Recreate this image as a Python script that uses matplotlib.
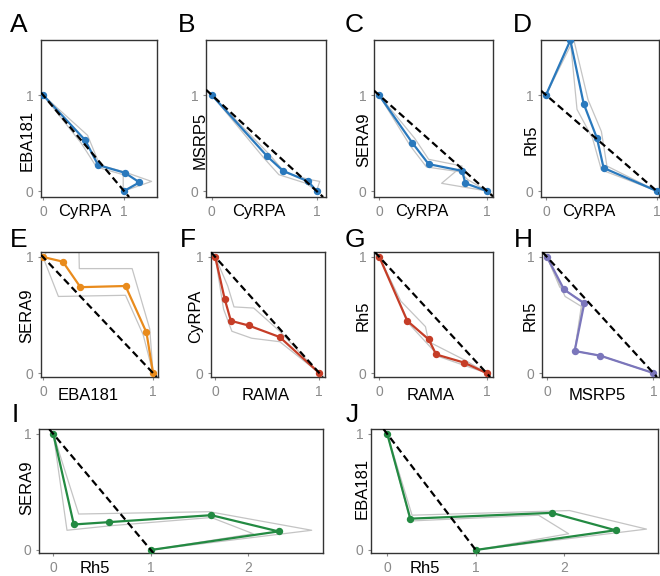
import matplotlib
matplotlib.use('Agg')
import matplotlib.pyplot as plt

plt.rcParams['font.family'] = ['Liberation Sans', 'DejaVu Sans']

# ---------------- data ----------------
panel_letters = ['A', 'B', 'C', 'D', 'E', 'F', 'G', 'H', 'I', 'J']
x_names = ['CyRPA', 'CyRPA', 'CyRPA', 'CyRPA', 'EBA181', 'RAMA', 'RAMA', 'MSRP5', 'Rh5', 'Rh5']
y_names = ['EBA181', 'MSRP5', 'SERA9', 'Rh5', 'SERA9', 'CyRPA', 'Rh5', 'Rh5', 'SERA9', 'EBA181']

a_x = [0, 0.52, 0.68, 1.01, 1.19, 1.0]
a_y = [1, 0.53, 0.27, 0.19, 0.09, 0]
a_g1x = [0, 0.55, 0.70, 1.0, 1.34, 1.0]
a_g1y = [1, 0.58, 0.27, 0.20, 0.10, 0]
a_g2x = [0, 0.47, 0.66, 0.99, 0.99, 1.0]
a_g2y = [1, 0.50, 0.25, 0.17, 0.04, 0]

b_x = [0, 0.53, 0.68, 0.92, 1.0]
b_y = [1, 0.36, 0.21, 0.10, 0]
b_g1x = [0, 0.55, 0.70, 0.93, 1.03, 1.0]
b_g1y = [1, 0.38, 0.19, 0.12, 0.10, 0]
b_g2x = [0, 0.50, 0.64, 0.90, 1.0]
b_g2y = [1, 0.34, 0.17, 0.08, 0]

c_x = [0, 0.31, 0.46, 0.77, 0.80, 1.0]
c_y = [1, 0.50, 0.28, 0.21, 0.08, 0]
c_g1x = [0, 0.33, 0.46, 0.77, 0.58, 1.0]
c_g1y = [1, 0.55, 0.33, 0.26, 0.08, 0]
c_g2x = [0, 0.29, 0.44, 0.75, 0.82, 1.0]
c_g2y = [1, 0.47, 0.25, 0.20, 0.12, 0]

d_x = [0, 0.22, 0.34, 0.46, 0.52, 1.0]
d_y = [1, 1.57, 0.91, 0.55, 0.24, 0]
d_g1x = [0, 0.22, 0.28, 0.42, 0.50, 1.0]
d_g1y = [1, 1.57, 0.85, 0.55, 0.22, 0]
d_g2x = [0, 0.25, 0.38, 0.50, 0.55, 1.0]
d_g2y = [1, 1.58, 0.95, 0.62, 0.26, 0]

e_x = [0, 0.18, 0.34, 0.75, 0.94, 1.0]
e_y = [1, 0.96, 0.74, 0.75, 0.35, 0]
e_g1x = [0, 0.32, 0.33, 0.81, 0.97, 1.0]
e_g1y = [1, 1.40, 0.90, 0.90, 0.38, 0]
e_g2x = [0, 0.14, 0.75, 0.91, 1.0]
e_g2y = [1, 0.66, 0.67, 0.33, 0]

f_x = [0, 0.09, 0.15, 0.32, 0.62, 1.0]
f_y = [1, 0.64, 0.45, 0.41, 0.31, 0]
f_g1x = [0, 0.12, 0.18, 0.37, 0.62, 1.0]
f_g1y = [1, 0.75, 0.57, 0.56, 0.36, 0]
f_g2x = [0, 0.08, 0.16, 0.35, 0.62, 1.0]
f_g2y = [1, 0.55, 0.36, 0.30, 0.27, 0]

g_x = [0, 0.26, 0.46, 0.53, 0.79, 1.0]
g_y = [1, 0.45, 0.29, 0.16, 0.09, 0]
g_g1x = [0, 0.20, 0.43, 0.46, 0.80, 1.0]
g_g1y = [1, 0.62, 0.40, 0.27, 0.11, 0]
g_g2x = [0, 0.28, 0.44, 0.56, 0.78, 1.0]
g_g2y = [1, 0.42, 0.26, 0.14, 0.07, 0]

h_x = [0, 0.16, 0.35, 0.26, 0.50, 1.0]
h_y = [1, 0.72, 0.60, 0.19, 0.15, 0]
h_g1x = [0, 0.12, 0.33, 0.26, 0.50, 1.0]
h_g1y = [1, 0.74, 0.62, 0.19, 0.15, 0]
h_g2x = [0, 0.17, 0.33, 0.26, 0.50, 1.0]
h_g2y = [1, 0.66, 0.57, 0.19, 0.15, 0]

i_x = [0, 0.21, 0.57, 1.62, 2.31, 1.0]
i_y = [1, 0.22, 0.24, 0.30, 0.16, 0]
i_g1x = [0, 0.26, 1.60, 2.65, 1.0]
i_g1y = [1, 0.31, 0.33, 0.17, 0]
i_g2x = [0, 0.14, 0.60, 1.62, 2.05, 1.0]
i_g2y = [1, 0.17, 0.21, 0.28, 0.14, 0]

j_x = [0, 0.26, 1.86, 2.58, 1.0]
j_y = [1, 0.27, 0.32, 0.17, 0]
j_g1x = [0, 0.28, 2.06, 2.93, 1.0]
j_g1y = [1, 0.30, 0.34, 0.18, 0]
j_g2x = [0, 0.26, 1.71, 2.05, 1.0]
j_g2y = [1, 0.25, 0.30, 0.14, 0]

xticks_small = [0, 1]
xticks_wide = [0, 1, 2]
yticks = [0, 1]

# ---------------- layout ----------------
W, H = 660, 576
fig = plt.figure(figsize=(W / 100, H / 100), dpi=100)

BLUE = '#2a79bd'
ORANGE = '#e98b1c'
RED = '#c53d27'
PURPLE = '#7b76bb'
GREEN = '#238a42'
GREY = '#c4c4c4'
TICKC = '#8a8a8a'

panels = [
    # frame (l, t, r, b), xlim, ylim, xticks, color, series, letter pos, xlabel pos, ylabel pos
    ((41, 40, 157, 197), (-0.025, 1.407), (-0.0625, 1.573), xticks_small, BLUE,
     (a_x, a_y, a_g1x, a_g1y, a_g2x, a_g2y), (10, 32), (85, 216), (27, 140)),
    ((206, 40, 326, 197), (-0.055, 1.09), (-0.0625, 1.573), xticks_small, BLUE,
     (b_x, b_y, b_g1x, b_g1y, b_g2x, b_g2y), (178, 32), (259, 216), (200, 140)),
    ((374, 40, 493, 197), (-0.046, 1.056), (-0.0625, 1.573), xticks_small, BLUE,
     (c_x, c_y, c_g1x, c_g1y, c_g2x, c_g2y), (345, 32), (422, 216), (364, 140)),
    ((541, 40, 659, 197), (-0.045, 1.02), (-0.0625, 1.573), xticks_small, BLUE,
     (d_x, d_y, d_g1x, d_g1y, d_g2x, d_g2y), (513, 32), (589, 216), (531, 140)),
    ((41, 252, 158, 377), (-0.018, 1.045), (-0.034, 1.043), xticks_small, ORANGE,
     (e_x, e_y, e_g1x, e_g1y, e_g2x, e_g2y), (10, 247), (88, 400), (27, 316)),
    ((211, 252, 325, 377), (-0.041, 1.055), (-0.034, 1.043), xticks_small, RED,
     (f_x, f_y, f_g1x, f_g1y, f_g2x, f_g2y), (180, 247), (266, 400), (196, 316)),
    ((374, 252, 493, 377), (-0.05, 1.06), (-0.034, 1.043), xticks_small, RED,
     (g_x, g_y, g_g1x, g_g1y, g_g2x, g_g2y), (345, 247), (431, 400), (363, 316)),
    ((542, 252, 659, 377), (-0.047, 1.053), (-0.034, 1.043), xticks_small, PURPLE,
     (h_x, h_y, h_g1x, h_g1y, h_g2x, h_g2y), (514, 247), (597, 400), (530, 316)),
    ((39, 429, 323, 553), (-0.147, 2.766), (-0.026, 1.043), xticks_wide, GREEN,
     (i_x, i_y, i_g1x, i_g1y, i_g2x, i_g2y), (12, 422), (95, 573), (27, 488)),
    ((371, 429, 658, 553), (-0.184, 3.06), (-0.026, 1.043), xticks_wide, GREEN,
     (j_x, j_y, j_g1x, j_g1y, j_g2x, j_g2y), (346, 422), (425, 573), (362, 488)),
]

for k, (frame, xl, yl, xt, col, ser, lpos, xlpos, ylpos) in enumerate(panels):
    l, t, r, b = frame
    ax = fig.add_axes([l / W, 1 - b / H, (r - l) / W, (b - t) / H])
    mx, my, g1x, g1y, g2x, g2y = ser
    ax.plot(g1x, g1y, color=GREY, lw=0.9, zorder=2)
    ax.plot(g2x, g2y, color=GREY, lw=0.9, zorder=2)
    ax.plot(mx, my, color=col, lw=1.6, marker='o', ms=4.3, zorder=3)
    ax.axline((0, 1), slope=-1, color='black', lw=1.6, ls=(0, (3.2, 1.8)), zorder=4)
    ax.set_xlim(*xl)
    ax.set_ylim(*yl)
    ax.set_xticks(xt)
    ax.set_yticks(yticks)
    ax.set_xticklabels([str(v) for v in xt])
    ax.set_yticklabels([str(v) for v in yticks])
    ax.tick_params(axis='both', colors=TICKC, labelcolor=TICKC, labelsize=10,
                   length=2.5, width=0.8, pad=3)
    for sp in ax.spines.values():
        sp.set_color('#333333')
        sp.set_linewidth(1.0)
    ax.set_xlabel(x_names[k], fontsize=12, color='black')
    ax.xaxis.set_label_coords(xlpos[0] / W, 1 - xlpos[1] / H, transform=fig.transFigure)
    ax.xaxis.label.set_va('baseline')
    ax.xaxis.label.set_ha('center')
    ax.set_ylabel(y_names[k], fontsize=12, color='black')
    ax.yaxis.set_label_coords(ylpos[0] / W, 1 - ylpos[1] / H, transform=fig.transFigure)
    ax.yaxis.label.set_va('center')
    ax.yaxis.label.set_ha('center')
    fig.text(lpos[0] / W, 1 - lpos[1] / H, panel_letters[k], fontsize=19,
             color='black', ha='left', va='baseline')

fig.savefig('out.png', dpi=100)
